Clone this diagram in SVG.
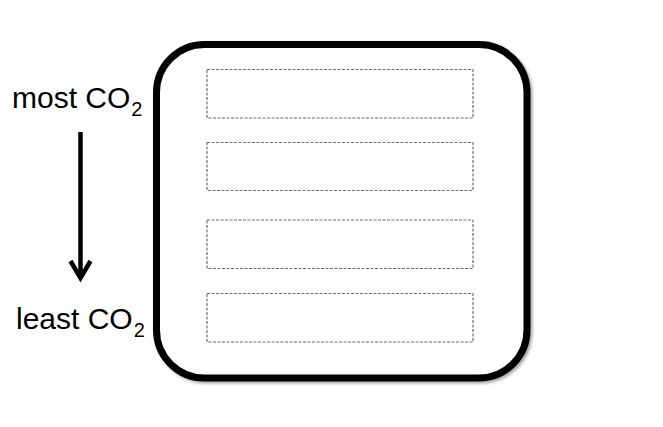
<svg xmlns="http://www.w3.org/2000/svg" width="663" height="427" viewBox="0 0 663 427">
  <style>
    .lbl { font-family: "Liberation Sans", Arial, sans-serif; font-size: 30px; fill: #000; }
    .sub { font-size: 20px; }
    .slot { fill: #fff; stroke: #6e6e6e; stroke-width: 1.2; stroke-dasharray: 3 1.5; }
  </style>
  <defs>
    <filter id="sh" x="-10%" y="-10%" width="120%" height="120%">
      <feGaussianBlur in="SourceAlpha" stdDeviation="1.5"/>
      <feOffset dx="1.5" dy="2" result="b"/>
      <feComponentTransfer><feFuncA type="linear" slope="0.35"/></feComponentTransfer>
      <feMerge><feMergeNode/><feMergeNode in="SourceGraphic"/></feMerge>
    </filter>
  </defs>
  <rect width="663" height="427" fill="#fff"/>
  <g id="container">
    <rect x="156.5" y="44.5" width="370.5" height="333.5" rx="48" ry="48" fill="#fff" stroke="#000" stroke-width="7" filter="url(#sh)"/>
  </g>
  <g id="slot1">
    <rect class="slot" x="207" y="69.5" width="266" height="48.5"/>
  </g>
  <g id="slot2">
    <rect class="slot" x="207" y="142.5" width="266" height="48"/>
  </g>
  <g id="slot3">
    <rect class="slot" x="207" y="220" width="266" height="48.5"/>
  </g>
  <g id="slot4">
    <rect class="slot" x="207" y="293.5" width="266" height="48.5"/>
  </g>
  <g id="label-most">
    <text class="lbl" x="12" y="108">most CO<tspan class="sub" dx="1" dy="8">2</tspan></text>
  </g>
  <g id="label-least">
    <text class="lbl" x="16" y="329">least CO<tspan class="sub" dx="1" dy="8">2</tspan></text>
  </g>
  <g id="connectors">
    <line x1="80.5" y1="132" x2="80.5" y2="277" stroke="#000" stroke-width="4.5"/>
    <polyline points="70.5,261 80.5,278 90.5,261" fill="none" stroke="#000" stroke-width="4.5" stroke-linejoin="miter"/>
  </g>
</svg>
